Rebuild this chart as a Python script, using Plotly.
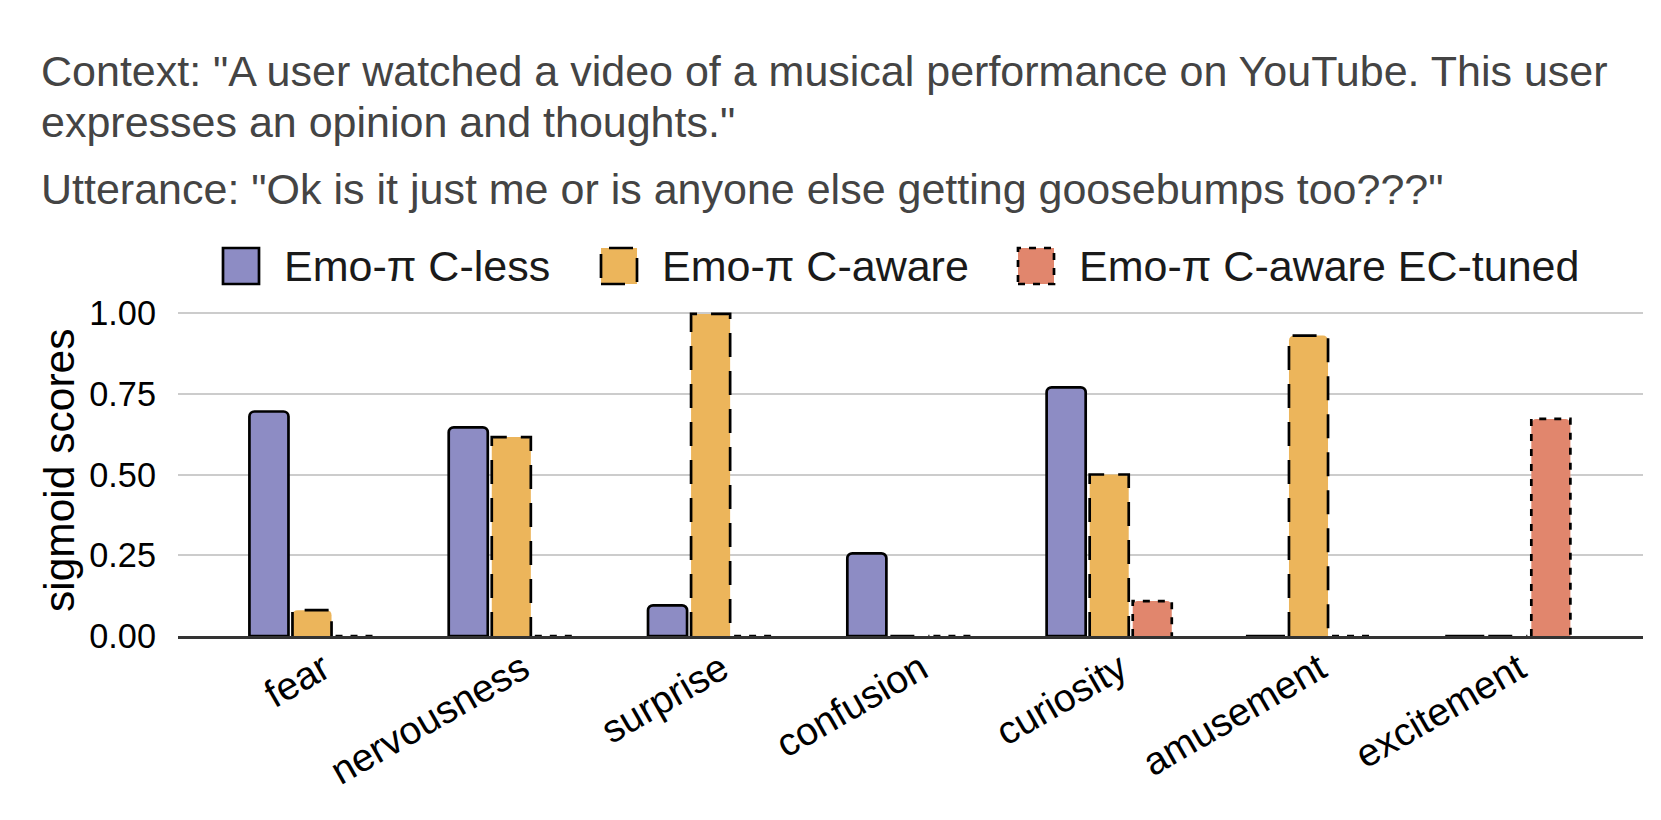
import plotly.graph_objects as go

# emotion categories and sigmoid scores
emotions = ["fear", "nervousness", "surprise", "confusion", "curiosity", "amusement", "excitement"]
c_less = [0.695, 0.646, 0.095, 0.256, 0.77, 0.0, 0.0]
c_aware = [0.08, 0.616, 0.997, 0.0, 0.50, 0.93, 0.0]
ec_tuned = [0.0, 0.0, 0.0, 0.0, 0.108, 0.0, 0.672]

series_names = ["Emo-π C-less", "Emo-π C-aware", "Emo-π C-aware EC-tuned"]
yticks = [0.0, 0.25, 0.5, 0.75, 1.0]

context_1 = 'Context: "A user watched a video of a musical performance on YouTube. This user'
context_2 = 'expresses an opinion and thoughts."'
utterance = 'Utterance: "Ok is it just me or is anyone else getting goosebumps too???"'

COLORS = ["#8D8CC4", "#ECB55B", "#E1866D"]
DASHES = ["solid", "24px,14px", "7px,8px"]
FONT = "Liberation Sans, Arial, sans-serif"

W = 0.196     # bar width in category units
SLOT = 0.216  # distance between bars inside a group
LW = 2.7
idx = list(range(len(emotions)))

# plot box in pixels
L, R, T, B = 170, 1635, 298, 628


def xp(px):
    return (px - L) / (R - L)


def yp(px):
    return (B - px) / (B - T)


fig = go.Figure()
for k, (name, vals) in enumerate(zip(series_names, [c_less, c_aware, ec_tuned])):
    off = (k - 1) * SLOT - W / 2
    solid = DASHES[k] == "solid"
    fig.add_trace(go.Bar(
        x=idx, y=vals, name=name, showlegend=False,
        width=W, offset=off,
        marker=dict(color=COLORS[k], cornerradius=5,
                    line=dict(color="black", width=LW if solid else 0)),
        hovertemplate="%{y:.2f}<extra>" + name + "</extra>",
    ))
    if not solid:
        # plotly bars can't dash their border, so trace it as a line
        xs, ys = [], []
        for i, v in zip(idx, vals):
            l, r = i + off, i + off + W
            xs += [l, l, r, r, None]
            ys += [0, v, v, 0, None]
        fig.add_trace(go.Scatter(
            x=xs, y=ys, mode="lines", showlegend=False, hoverinfo="skip",
            line=dict(color="black", width=LW, dash=DASHES[k]),
        ))

# header text
for txt, ypx in [(context_1, 62.5), (context_2, 113.5), (utterance, 181)]:
    fig.add_annotation(
        text=txt, xref="paper", yref="paper", x=xp(31), y=yp(ypx),
        xanchor="left", yanchor="middle", showarrow=False, align="left",
        font=dict(size=43, color="#444444", family=FONT),
    )

# legend drawn by hand so the keys can be big and keep their dash style
legend_key_x = [215, 593, 1010]
legend_txt_x = [277, 655, 1072]
for k, name in enumerate(series_names):
    x0 = legend_key_x[k]
    fig.add_shape(
        type="rect", xref="paper", yref="paper",
        x0=xp(x0), x1=xp(x0 + 36), y0=yp(276), y1=yp(240),
        fillcolor=COLORS[k], line=dict(color="black", width=LW, dash=DASHES[k]),
    )
    fig.add_annotation(
        text=name, xref="paper", yref="paper", x=xp(legend_txt_x[k] - 3), y=yp(258),
        xanchor="left", yanchor="middle", showarrow=False,
        font=dict(size=43, color="#1a1a1a", family=FONT),
    )

fig.add_annotation(
    text="sigmoid scores", xref="paper", yref="paper", x=xp(51), y=yp(463),
    xanchor="center", yanchor="middle", textangle=-90, showarrow=False,
    font=dict(size=42.5, color="black", family=FONT),
)

fig.update_layout(
    width=1661, height=820,
    margin=dict(l=L, r=1661 - R, t=T, b=820 - B),
    paper_bgcolor="white", plot_bgcolor="white",
    barmode="overlay", showlegend=False,
    font=dict(family=FONT, size=39, color="black"),
    xaxis=dict(
        tickmode="array", tickvals=idx, ticktext=emotions, tickangle=-30,
        ticklabelshift=11, ticklabelstandoff=-8,
        range=[(L - 304) / 199.3, (R - 304) / 199.3], showgrid=False, zeroline=False,
        showline=True, linecolor="#333333", linewidth=2.7, ticks="",
        tickfont=dict(size=39, color="black"),
    ),
    yaxis=dict(
        range=[0, (B - T) / 323.0], tickvals=yticks, tickformat=".2f",
        showgrid=True, gridcolor="#cccccc", gridwidth=2, zeroline=False,
        showline=False, ticks="", ticklabelstandoff=21,
        tickfont=dict(size=34.3, color="black"),
    ),
)

fig.write_html("out.html")
